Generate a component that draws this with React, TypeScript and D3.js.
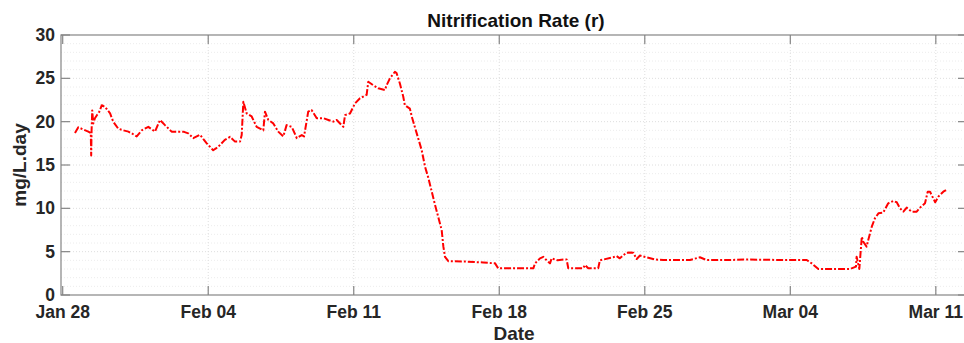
import * as d3 from 'd3';
import React from 'react';

// days after Jan 28 (UTC) and nitrification rate
const dayOffsets = [
  0.59, 0.75, 0.99, 1.23, 1.35, 1.37, 1.39, 1.42, 1.47, 1.55, 1.66, 1.76, 1.88, 2.04, 2.28, 2.43,
  2.67, 2.91, 3.16, 3.32, 3.56, 3.8, 4.12, 4.44, 4.68, 4.92, 5.24, 5.48, 5.8, 6.04, 6.28, 6.6,
  6.93, 7.24, 7.48, 7.8, 8.05, 8.29, 8.53, 8.61, 8.69, 8.85, 9.09, 9.33, 9.65, 9.73, 9.89, 10.13,
  10.37, 10.61, 10.77, 11.02, 11.26, 11.5, 11.61, 11.81, 11.97, 12.22, 12.54, 12.78, 13.02, 13.18,
  13.5, 13.58, 13.82, 14.06, 14.3, 14.62, 14.7, 14.94, 15.18, 15.5, 15.58, 15.74, 15.98, 16.06,
  16.22, 16.38, 16.46, 16.7, 16.79, 17.03, 17.27, 17.43, 17.59, 17.9, 18.23, 18.31, 18.39, 18.55,
  19.43, 20.23, 20.8, 20.95, 22.64, 22.72, 22.96, 23.12, 23.28, 23.44, 23.52, 23.81, 24.13, 24.24,
  24.32, 25.04, 25.12, 25.28, 25.76, 25.84, 26.48, 26.64, 26.8, 27.12, 27.29, 27.45, 27.61, 27.77,
  28.09, 28.5, 28.89, 30.17, 30.65, 30.97, 32.1, 32.9, 34.5, 35.79, 36.03, 36.35, 37.87, 38.16,
  38.19, 38.32, 38.44, 38.51, 38.67, 38.75, 38.92, 39.07, 39.24, 39.47, 39.71, 39.96, 40.12, 40.28,
  40.44, 40.6, 40.84, 41.08, 41.24, 41.48, 41.61, 41.72, 41.97, 42.12, 42.36, 42.49
];
const rate = [
  18.7, 19.35, 19.1, 18.85, 18.7, 16.1, 19.0, 21.3, 19.8, 20.4, 20.8, 21.15, 21.9, 21.7, 20.95, 20.0,
  19.2, 19.0, 18.85, 18.65, 18.3, 19.0, 19.4, 18.85, 20.2, 19.6, 18.85, 18.85, 18.85, 18.65, 18.1, 18.5,
  17.5, 16.7, 17.1, 17.9, 18.25, 17.7, 17.7, 18.45, 22.3, 20.95, 20.6, 19.4, 19.0, 21.15, 20.2, 19.8,
  18.85, 18.3, 19.6, 19.4, 18.1, 18.45, 18.3, 21.15, 21.35, 20.4, 20.4, 20.2, 20.0, 20.2,
  19.4, 20.75, 20.95, 22.1, 22.7, 23.1, 24.6, 24.2, 23.85, 23.65, 24.2, 25.0, 25.75, 25.6,
  24.4, 22.9, 21.9, 21.5, 20.6, 18.65, 16.7, 14.8, 13.5, 10.5, 7.5, 5.6, 4.4, 3.9,
  3.85, 3.75, 3.65, 3.08, 3.08, 3.65, 4.23, 4.4, 4.0, 3.65, 4.23, 4.0, 4.1, 4.1,
  3.08, 3.08, 3.46, 3.08, 3.08, 4.0, 4.35, 4.5, 4.23, 4.88, 4.9, 4.88, 4.15, 4.55,
  4.35, 4.1, 4.04, 4.04, 4.35, 4.04, 4.04, 4.1, 4.04, 4.04, 3.65, 3.0, 3.0, 3.27,
  4.42, 3.0, 6.73, 6.15, 5.58, 6.35, 7.88, 8.85, 9.42, 9.5, 10.58, 10.85, 10.7, 10.0,
  9.62, 10.08, 9.62, 9.62, 10.08, 10.58, 11.92, 11.92, 10.7, 11.35, 11.92, 12.1
];
const xTickDates = ['2019-01-28', '2019-02-04', '2019-02-11', '2019-02-18', '2019-02-25', '2019-03-04', '2019-03-11'];
const yTicks = [0, 5, 10, 15, 20, 25, 30];

const width = 964;
const height = 343;
const left = 61;
const right = 967;
const top = 35;
const bottom = 295;
const DAY = 864e5;
const start = Date.UTC(2019, 0, 28);

export default function App() {
  const x = d3.scaleUtc()
    .domain([new Date(start - 0.082 * DAY), new Date(start + 43.5 * DAY)])
    .range([left, right]);
  const y = d3.scaleLinear().domain([0, 30]).range([bottom, top]);

  const data = dayOffsets.map((d, i) => ({ t: new Date(start + d * DAY), v: rate[i] }));
  const line = d3.line<{ t: Date; v: number }>()
    .x(d => x(d.t))
    .y(d => y(d.v));

  const xTicks = xTickDates.map(s => new Date(s + 'T00:00:00Z'));
  const fmt = d3.utcFormat('%b %d');
  const minorY = d3.range(0, 31, 1).filter(v => v % 5 !== 0);
  const font = '"Liberation Sans", Arial, sans-serif';
  const axisColor = '#858585';
  const textColor = '#262626';

  return (
    <svg width={width} height={height} style={{ position: 'absolute', left: 0, top: 0, background: '#fff' }}
      fontFamily={font}>
      <defs>
        <clipPath id="plot">
          <rect x={left} y={top} width={right - left} height={bottom - top} />
        </clipPath>
      </defs>

      {/* grid */}
      {minorY.map(v => (
        <line key={'m' + v} x1={left} x2={right} y1={y(v)} y2={y(v)}
          stroke="#ececec" strokeWidth={1} strokeDasharray="1,2" />
      ))}
      {yTicks.slice(1, -1).map(v => (
        <line key={'g' + v} x1={left} x2={right} y1={y(v)} y2={y(v)}
          stroke="#dedede" strokeWidth={1} strokeDasharray="1,2" />
      ))}
      {xTicks.slice(1).map((d, i) => (
        <line key={'gx' + i} x1={x(d)} x2={x(d)} y1={top} y2={bottom}
          stroke="#dedede" strokeWidth={1} strokeDasharray="1,2" />
      ))}

      {/* data */}
      <path d={line(data) ?? ''} fill="none" stroke="#ff0000" strokeWidth={2}
        strokeDasharray="7,2,2,2" strokeLinejoin="round" clipPath="url(#plot)" />

      {/* axes box */}
      <rect x={left} y={top} width={right - left} height={bottom - top} fill="none"
        stroke={axisColor} strokeWidth={1.2} />
      {xTicks.map((d, i) => (
        <g key={'xt' + i}>
          <line x1={x(d)} x2={x(d)} y1={bottom} y2={bottom - 9} stroke={axisColor} strokeWidth={1.2} />
          <line x1={x(d)} x2={x(d)} y1={top} y2={top + 9} stroke={axisColor} strokeWidth={1.2} />
          <text x={x(d)} y={318} textAnchor="middle" fontSize={17.5} fontWeight="bold" fill={textColor}>
            {fmt(d)}
          </text>
        </g>
      ))}
      {yTicks.map(v => (
        <g key={'yt' + v}>
          <line x1={left} x2={left + 9} y1={y(v)} y2={y(v)} stroke={axisColor} strokeWidth={1.2} />
          <line x1={right} x2={right - 9} y1={y(v)} y2={y(v)} stroke={axisColor} strokeWidth={1.2} />
          <text x={55} y={y(v) + 6} textAnchor="end" fontSize={17.5} fontWeight="bold" fill={textColor}>
            {v}
          </text>
        </g>
      ))}

      {/* labels */}
      <text x={(left + right) / 2 + 2} y={27} textAnchor="middle" fontSize={19} fontWeight="bold" fill="#111">
        Nitrification Rate (r)
      </text>
      <text x={514} y={340} textAnchor="middle" fontSize={19} fontWeight="bold" fill={textColor}>
        Date
      </text>
      <text transform={`translate(26,${(top + bottom) / 2}) rotate(-90)`} textAnchor="middle"
        fontSize={19} fontWeight="bold" fill={textColor}>
        mg/L.day
      </text>
    </svg>
  );
}
